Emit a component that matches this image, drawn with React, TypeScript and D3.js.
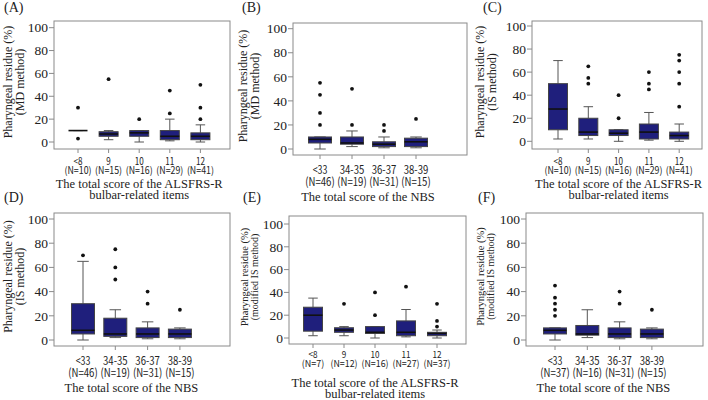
import React from "react";
import { scaleLinear, scalePoint } from "d3";

// categories
const alsfrsCats = ["<8", "9", "10", "11", "12"];
const nbsCats = ["<33", "34-35", "36-37", "38-39"];

// group sizes
const nA = ["(N=10)", "(N=15)", "(N=16)", "(N=29)", "(N=41)"];
const nB = ["(N=46)", "(N=19)", "(N=31)", "(N=15)"];
const nC = ["(N=10)", "(N=15)", "(N=16)", "(N=29)", "(N=41)"];
const nD = ["(N=46)", "(N=19)", "(N=31)", "(N=15)"];
const nE = ["(N=7)", "(N=12)", "(N=16)", "(N=27)", "(N=37)"];
const nF = ["(N=37)", "(N=16)", "(N=31)", "(N=15)"];

// box stats: [low whisker, q1, median, q3, high whisker]
const boxA = [[10, 10, 10, 10, 10], [2, 5, 7, 9, 10], [0, 5, 8, 10, 10], [1, 2, 5, 10, 20], [0, 2, 5, 8, 15]];
const outA = [[30, 3], [55], [20], [25, 45], [20, 30, 50]];
const boxB = [[0, 5, 8, 10, 10], [2, 4, 5, 10, 15], [1, 2, 4, 6, 10], [1, 2, 6, 9, 10]];
const outB = [[20, 30, 45, 55], [20, 50], [15, 20], [25]];
const boxC = [[2, 10, 28, 50, 70], [2, 5, 8, 20, 30], [0, 5, 7, 10, 10], [1, 2, 8, 15, 25], [0, 2, 5, 8, 15]];
const outC = [[], [50, 55, 65], [20, 40], [45, 50, 60], [30, 50, 60, 70, 75]];
const boxD = [[0, 5, 8, 30, 65], [2, 3, 5, 18, 25], [1, 2, 5, 10, 15], [1, 2, 5, 9, 10]];
const outD = [[70], [50, 60, 75], [30, 40], [25]];
const boxE = [[2, 6, 20, 27, 35], [2, 5, 7, 9, 10], [0, 4, 5, 10, 10], [1, 2, 5, 15, 25], [0, 2, 4, 5, 7]];
const outE = [[], [30], [20, 40], [45], [10, 15, 30]];
const boxF = [[0, 5, 8, 10, 10], [2, 4, 5, 12, 25], [1, 2, 5, 10, 15], [1, 2, 5, 9, 10]];
const outF = [[20, 25, 30, 35, 45], [], [30, 40], [25]];

const yTicks = [0, 20, 40, 60, 80, 100];

const xTitleAls = ["The total score of the ALSFRS-R", "bulbar-related items"];
const xTitleNbs = ["The total score of the NBS"];

const BOX_FILL = "#1f1f7c";
const SERIF = "'Liberation Serif', 'DejaVu Serif', serif";
const GOTHIC = "'Noto Sans CJK JP', 'Noto Sans', sans-serif";

interface Geo {
  x0: number; x1: number; yT: number; yB: number;
  y0: number; y100: number;
  cFirst: number; cStep: number;
  boxW: number;
  catFont: number; charW: number;
  catDy: number; nDy: number; tDy: number;
  yTitleFont: number; yTitle2Font: number;
  t1x: number; t2x: number;
  labelX: number; labelY: number;
}

interface PanelProps {
  label: string;
  geo: Geo;
  cats: string[];
  ns: string[];
  boxes: number[][];
  outliers: number[][];
  method: string;
  xTitle: string[];
}

const Panel = ({ label, geo, cats, ns, boxes, outliers, method, xTitle }: PanelProps) => {
  const y = scaleLinear().domain([0, 100]).range([geo.y0, geo.y100]);
  const x = scalePoint<string>()
    .domain(cats)
    .range([geo.cFirst, geo.cFirst + geo.cStep * (cats.length - 1)]);
  const bw = geo.boxW;
  const cap = bw / 2;
  const midY = (geo.yT + geo.yB) / 2 - 3;
  const titleX = (geo.cFirst + geo.cFirst + geo.cStep * (cats.length - 1)) / 2;

  return (
    <g>
      <text x={geo.labelX} y={geo.labelY} fontFamily={SERIF} fontSize={14} fill="#222">
        {label}
      </text>
      {/* y title */}
      <text
        transform={`translate(${geo.t1x},${midY}) rotate(-90)`}
        textAnchor="middle"
        fontFamily={SERIF}
        fontSize={geo.yTitleFont}
        fill="#222"
      >
        Pharyngeal residue (%)
      </text>
      <text
        transform={`translate(${geo.t2x},${midY}) rotate(-90)`}
        textAnchor="middle"
        fontFamily={SERIF}
        fontSize={geo.yTitle2Font}
        fill="#222"
      >
        {method}
      </text>
      {/* frame */}
      <rect
        x={geo.x0}
        y={geo.yT}
        width={geo.x1 - geo.x0}
        height={geo.yB - geo.yT}
        fill="none"
        stroke="#8a8a8a"
        strokeWidth={1}
      />
      {yTicks.map((t) => (
        <g key={t}>
          <line x1={geo.x0 - 5} x2={geo.x0} y1={y(t)} y2={y(t)} stroke="#8a8a8a" />
          <text
            x={geo.x0 - 6}
            y={y(t)}
            dy="0.35em"
            textAnchor="end"
            fontFamily={SERIF}
            fontSize={13.5}
            fill="#222"
          >
            {t}
          </text>
        </g>
      ))}
      {cats.map((c, i) => {
        const cx = x(c)!;
        const [lo, q1, med, q3, hi] = boxes[i];
        return (
          <g key={c}>
            <line x1={cx} x2={cx} y1={geo.yB} y2={geo.yB + 4} stroke="#8a8a8a" />
            <line x1={cx} x2={cx} y1={y(hi)} y2={y(q3)} stroke="#555" />
            <line x1={cx} x2={cx} y1={y(q1)} y2={y(lo)} stroke="#555" />
            <line x1={cx - cap / 2} x2={cx + cap / 2} y1={y(hi)} y2={y(hi)} stroke="#555" />
            <line x1={cx - cap / 2} x2={cx + cap / 2} y1={y(lo)} y2={y(lo)} stroke="#555" />
            <rect
              x={cx - bw / 2}
              y={y(q3)}
              width={bw}
              height={Math.max(0, y(q1) - y(q3))}
              fill={BOX_FILL}
              stroke="#444"
              strokeWidth={1}
            />
            <line x1={cx - bw / 2} x2={cx + bw / 2} y1={y(med)} y2={y(med)} stroke="#111" strokeWidth={1.6} />
            {outliers[i].map((o, j) => (
              <circle key={j} cx={cx} cy={y(o)} r={1.9} fill="#111" />
            ))}
            <text
              textAnchor="middle"
              fontFamily={GOTHIC}
              fontSize={geo.catFont}
              fill="#222"
            >
              <tspan
                x={cx}
                y={geo.yB + geo.catDy}
                textLength={c.length * geo.charW}
                lengthAdjust="spacingAndGlyphs"
              >
                {c}
              </tspan>
              <tspan
                x={cx}
                y={geo.yB + geo.nDy}
                textLength={ns[i].length * geo.charW}
                lengthAdjust="spacingAndGlyphs"
              >
                {ns[i]}
              </tspan>
            </text>
          </g>
        );
      })}
      <text textAnchor="middle" fontFamily={SERIF} fontSize={12.5} fill="#222">
        {xTitle.map((t, i) => (
          <tspan key={t} x={titleX} y={geo.yB + geo.tDy + i * 11}>
            {t}
          </tspan>
        ))}
      </text>
    </g>
  );
};

const als5 = { boxW: 19, catFont: 10, charW: 4.5, catDy: 16, nDy: 25, tDy: 39 };
const nbs4 = { boxW: 23, catFont: 11.5, charW: 4.9, catDy: 19, nDy: 31, tDy: 46 };

const geoA: Geo = { x0: 54, x1: 230, yT: 21, yB: 149, y0: 142, y100: 27.7, cFirst: 78, cStep: 30.6, ...als5, yTitleFont: 12, yTitle2Font: 12, t1x: 12, t2x: 24, labelX: 4, labelY: 12 };
const geoB: Geo = { x0: 293, x1: 467, yT: 23, yB: 155, y0: 149, y100: 28.7, cFirst: 320, cStep: 32, ...nbs4, yTitleFont: 12, yTitle2Font: 12, t1x: 247, t2x: 259, labelX: 242, labelY: 12 };
const geoC: Geo = { x0: 532, x1: 702, yT: 21, yB: 149, y0: 141.3, y100: 26, cFirst: 558, cStep: 30.3, ...als5, yTitleFont: 12, yTitle2Font: 12, t1x: 484, t2x: 496, labelX: 483, labelY: 12 };
const geoD: Geo = { x0: 54, x1: 230, yT: 213, yB: 346, y0: 340, y100: 219, cFirst: 83, cStep: 32.3, ...nbs4, yTitleFont: 12, yTitle2Font: 12, t1x: 12, t2x: 24, labelX: 4, labelY: 202 };
const geoE: Geo = { x0: 289, x1: 466, yT: 216, yB: 344, y0: 338, y100: 224, cFirst: 313, cStep: 31, ...als5, catFont: 9.5, catDy: 14, nDy: 23, tDy: 43, yTitleFont: 10.5, yTitle2Font: 10, t1x: 248, t2x: 258, labelX: 243, labelY: 202 };
const geoF: Geo = { x0: 526, x1: 703, yT: 213, yB: 346, y0: 340, y100: 219, cFirst: 555, cStep: 32.3, ...nbs4, yTitleFont: 10.5, yTitle2Font: 10, t1x: 484, t2x: 494, labelX: 478, labelY: 202 };

export default function App() {
  return (
    <svg
      width={708}
      height={400}
      style={{ position: "absolute", left: 0, top: 0, background: "#fff" }}
    >
      <rect width={708} height={400} fill="#fff" />
      <Panel label="(A)" geo={geoA} cats={alsfrsCats} ns={nA} boxes={boxA} outliers={outA} method="(MD method)" xTitle={xTitleAls} />
      <Panel label="(B)" geo={geoB} cats={nbsCats} ns={nB} boxes={boxB} outliers={outB} method="(MD method)" xTitle={xTitleNbs} />
      <Panel label="(C)" geo={geoC} cats={alsfrsCats} ns={nC} boxes={boxC} outliers={outC} method="(IS method)" xTitle={xTitleAls} />
      <Panel label="(D)" geo={geoD} cats={nbsCats} ns={nD} boxes={boxD} outliers={outD} method="(IS method)" xTitle={xTitleNbs} />
      <Panel label="(E)" geo={geoE} cats={alsfrsCats} ns={nE} boxes={boxE} outliers={outE} method="(modified IS method)" xTitle={xTitleAls} />
      <Panel label="(F)" geo={geoF} cats={nbsCats} ns={nF} boxes={boxF} outliers={outF} method="(modified IS method)" xTitle={xTitleNbs} />
    </svg>
  );
}
